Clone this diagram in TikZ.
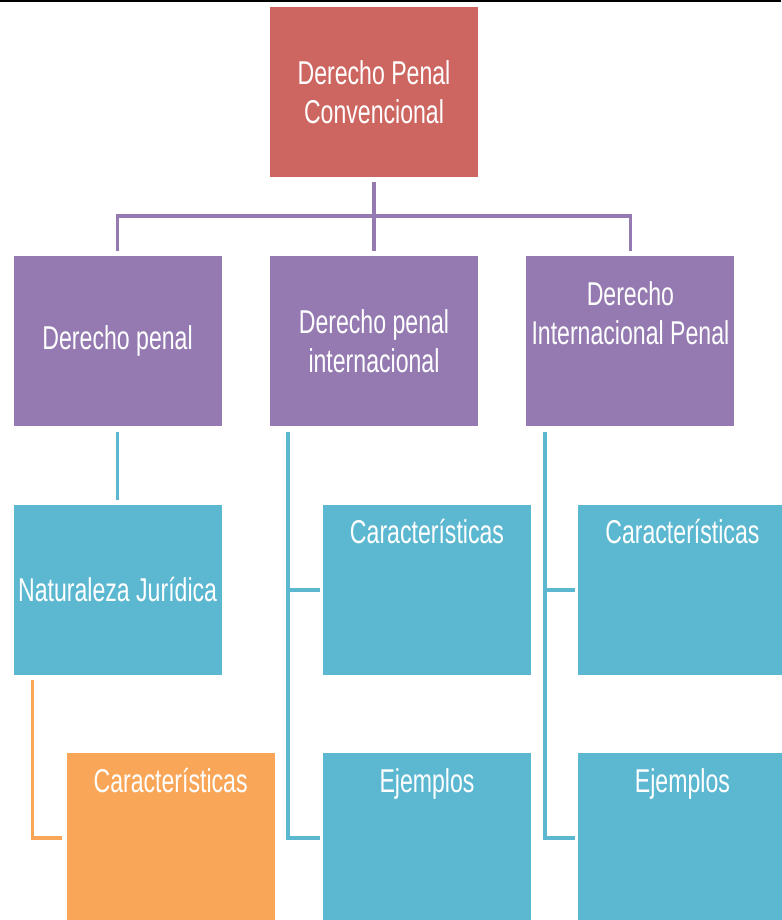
\documentclass[tikz,border=0pt]{standalone}
\usepackage{fontspec}
\setmainfont[FakeStretch=0.7]{Liberation Sans}
\usetikzlibrary{positioning}

\definecolor{rootred}{RGB}{205,102,96}
\definecolor{boxpurple}{RGB}{148,122,177}
\definecolor{boxblue}{RGB}{92,184,209}
\definecolor{boxorange}{RGB}{250,166,88}

\tikzset{
  box/.style={minimum width=208pt, minimum height=170pt, inner sep=0pt,
    align=center, text=white, font=\fontsize{33}{39}\selectfont},
  topbox/.style={box, text height=39pt, text depth=131pt},
  link/.style={line width=3.5pt},
}

\begin{document}
\begin{tikzpicture}[x=1pt, y=1pt]
\useasboundingbox (0,0) rectangle (781,-920);
\draw[line width=1.5pt] (0,-1.2) -- (781,-1.2);

\node[box, fill=rootred](DPC) at (374,-92){Derecho Penal\\Convencional};
\node[box, fill=boxpurple, below=79pt of DPC](DPI){Derecho penal\\internacional};
\node[box, fill=boxpurple, left=48pt of DPI](DP){Derecho penal};
\node[box, fill=boxpurple, right=48pt of DPI, text height=88pt, text depth=82pt](DIP){Derecho\\Internacional Penal};
\node[box, fill=boxblue, below=78pt of DP](NJ){Naturaleza Jurídica};
\node[topbox, fill=boxblue, right=101pt of NJ](C2){Características};
\node[topbox, fill=boxblue, right=47pt of C2](C3){Características};
\node[topbox, fill=boxblue, below=78pt of C2](E2){Ejemplos};
\node[topbox, fill=boxblue, below=78pt of C3](E3){Ejemplos};
\node[topbox, fill=boxorange, below=78pt of NJ, xshift=53pt](C1){Características};

\draw[link, boxpurple] ([yshift=-5pt]DPC.south) -- ([yshift=5pt]DPI.north);
\draw[link, boxpurple] ([yshift=5pt]DP.north) -- ([yshift=40pt]DP.north) -- ([yshift=40pt]DIP.north) -- ([yshift=5pt]DIP.north);
\draw[link, boxblue] ([yshift=-5pt]DP.south) -- ([yshift=5pt]NJ.north);
\draw[link, boxblue] ([xshift=18pt,yshift=-5pt]DPI.south west) |- ([xshift=-3pt]C2.west);
\draw[link, boxblue] ([xshift=18pt,yshift=-5pt]DPI.south west) |- ([xshift=-3pt]E2.west);
\draw[link, boxblue] ([xshift=19pt,yshift=-5pt]DIP.south west) |- ([xshift=-3pt]C3.west);
\draw[link, boxblue] ([xshift=19pt,yshift=-5pt]DIP.south west) |- ([xshift=-3pt]E3.west);
\draw[link, boxorange] ([xshift=19pt,yshift=-5pt]NJ.south west) |- ([xshift=-4pt]C1.west);
\end{tikzpicture}
\end{document}
